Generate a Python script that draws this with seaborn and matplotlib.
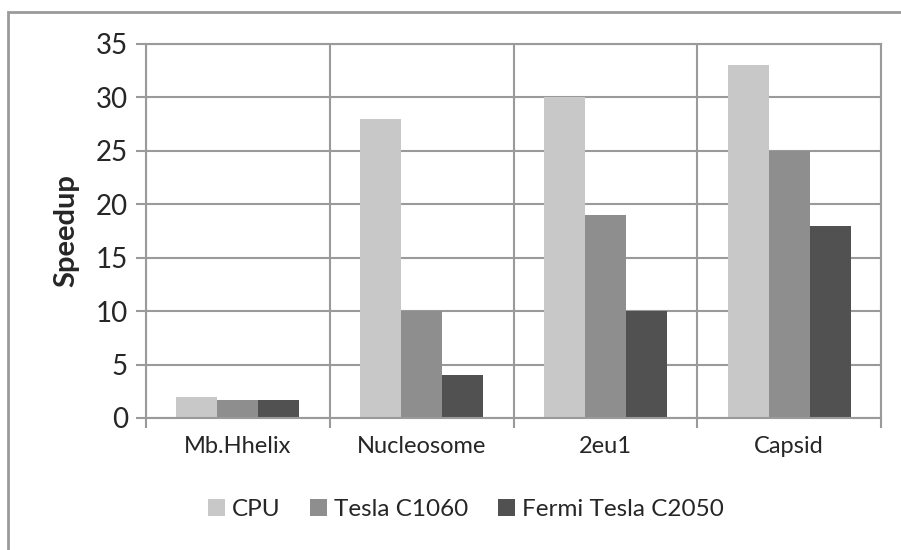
import matplotlib
matplotlib.use('Agg')
import matplotlib.pyplot as plt
from matplotlib.patches import Rectangle
import seaborn as sb
import pandas as pd
import numpy as np

# data
categories = ['Mb.Hhelix', 'Nucleosome', '2eu1', 'Capsid']
series = ['CPU', 'Tesla C1060', 'Fermi Tesla C2050']
cpu = [2.0, 28.0, 30.0, 33.0]
tesla = [1.7, 10.0, 19.0, 25.0]
fermi = [1.7, 4.0, 10.0, 18.0]
colors = ['#c8c8c8', '#8e8e8e', '#515151']
y_ticks = [0, 5, 10, 15, 20, 25, 30, 35]

df = pd.DataFrame({
    'category': categories * 3,
    'series': [series[0]] * 4 + [series[1]] * 4 + [series[2]] * 4,
    'speedup': cpu + tesla + fermi,
})

sb.set_style('white')
plt.rcParams['font.family'] = ['Lato', 'DejaVu Sans']

fig = plt.figure(figsize=(9.01, 5.5), dpi=100)
ax = fig.add_axes([146 / 901, 1 - 418 / 550, (881 - 146) / 901, (418 - 44) / 550])

sb.barplot(data=df, x='category', y='speedup', hue='series', order=categories,
           hue_order=series, palette=colors, width=0.67, gap=0, saturation=1,
           linewidth=0, ax=ax, legend=True)

grid_c = '#9a9a9a'
ax.set_xlim(-0.5, 3.5)
ax.set_ylim(0, 35)
ax.set_yticks(y_ticks)
ax.set_xticks(range(len(categories)))
ax.set_xticks(np.arange(-0.5, 4, 1), minor=True)
ax.grid(True, axis='y', which='major', color=grid_c, lw=1.5)
ax.grid(True, axis='x', which='minor', color=grid_c, lw=1.5)
ax.grid(False, axis='x', which='major')
ax.set_axisbelow(True)
for s in ax.spines.values():
    s.set_visible(True)
    s.set_color(grid_c)
    s.set_linewidth(1.5)
ax.tick_params(axis='y', which='major', length=7, width=1.5, color=grid_c,
               labelsize=20, pad=6, left=True)
ax.tick_params(axis='x', which='major', length=0, labelsize=17, pad=13)
ax.tick_params(axis='x', which='minor', length=7, width=1.5, color=grid_c, bottom=True)
ax.set_xlabel('')
ax.set_ylabel('Speedup', fontsize=21, fontweight='bold', labelpad=12)

h, l = ax.get_legend_handles_labels()
ax.legend(h, l, loc='center', bbox_to_anchor=(0.517, 0.073), bbox_transform=fig.transFigure,
          ncol=3, frameon=False, fontsize=17.5, handlelength=0.7, handleheight=0.7,
          handletextpad=0.3, columnspacing=1.2)

# outer chart frame
fig.patches.append(Rectangle((8 / 901, -0.05), 1.0, 1 - 12 / 550 + 0.05,
                             transform=fig.transFigure, fill=False,
                             edgecolor=grid_c, lw=2, zorder=0))

fig.savefig('out.png', dpi=100)
